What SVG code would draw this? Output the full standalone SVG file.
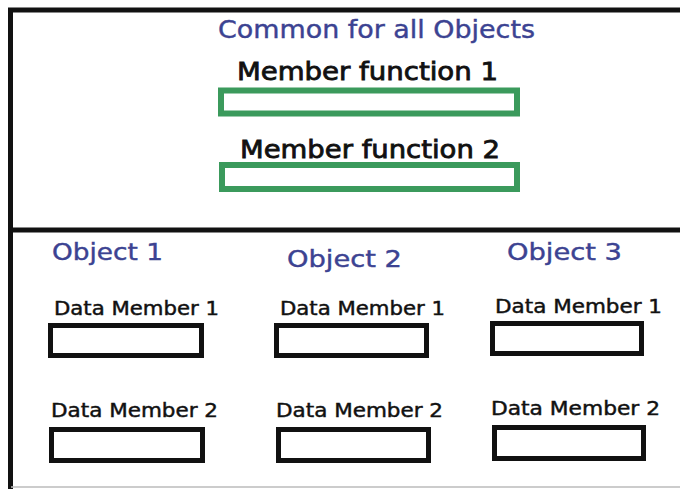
<svg xmlns="http://www.w3.org/2000/svg" width="680" height="489" viewBox="0 0 680 489">
  <style>
    .frame { stroke: #111; stroke-width: 5; fill: none; }
    .fn-box { fill: #fff; stroke: #3b9a5c; stroke-width: 6; }
    .dm-box { fill: #fff; stroke: #111; stroke-width: 5; }
    .title { font-family: "DejaVu Sans", "Liberation Sans", sans-serif; fill: #3c4392; stroke: #3c4392; stroke-width: 0.4; font-size: 24px; }
    .fn-label { font-family: "DejaVu Sans", "Liberation Sans", sans-serif; fill: #111; stroke: #111; stroke-width: 0.8; font-size: 24px; }
    .obj-label { font-family: "DejaVu Sans", "Liberation Sans", sans-serif; fill: #3c4392; stroke: #3c4392; stroke-width: 0.4; font-size: 23px; }
    .dm-label { font-family: "DejaVu Sans", "Liberation Sans", sans-serif; fill: #111; stroke: #111; stroke-width: 0.45; font-size: 19px; }
  </style>
  <rect width="680" height="489" fill="#fff"/>

  <!-- outer frame and divider between shared and per-object parts -->
  <g id="frame">
    <path class="frame" d="M680 10 H10.5 V489"/>
    <path class="frame" d="M10.5 230 H680"/>
    <path d="M11 487 H680" stroke="#bbb" stroke-width="1.5" fill="none"/>
  </g>

  <!-- shared member functions -->
  <g id="common">
    <text class="title" x="218" y="38" textLength="317" lengthAdjust="spacingAndGlyphs">Common for all Objects</text>
  </g>
  <g id="member-function-1">
    <text class="fn-label" x="237" y="80" textLength="261" lengthAdjust="spacingAndGlyphs">Member function 1</text>
    <rect class="fn-box" x="221" y="90.5" width="296" height="23"/>
  </g>
  <g id="member-function-2">
    <text class="fn-label" x="240" y="158" textLength="260" lengthAdjust="spacingAndGlyphs">Member function 2</text>
    <rect class="fn-box" x="222" y="165" width="295" height="24"/>
  </g>

  <!-- object 1 -->
  <g id="object-1">
    <text class="obj-label" x="52" y="260" textLength="111" lengthAdjust="spacingAndGlyphs">Object 1</text>
    <text class="dm-label" x="54" y="315" textLength="165" lengthAdjust="spacingAndGlyphs">Data Member 1</text>
    <rect class="dm-box" x="50.5" y="325.5" width="151" height="30"/>
    <text class="dm-label" x="51" y="417" textLength="167" lengthAdjust="spacingAndGlyphs">Data Member 2</text>
    <rect class="dm-box" x="51.5" y="429.5" width="151" height="31"/>
  </g>

  <!-- object 2 -->
  <g id="object-2">
    <text class="obj-label" x="287" y="267" textLength="115" lengthAdjust="spacingAndGlyphs">Object 2</text>
    <text class="dm-label" x="280" y="315" textLength="165" lengthAdjust="spacingAndGlyphs">Data Member 1</text>
    <rect class="dm-box" x="276.5" y="325.5" width="150" height="30"/>
    <text class="dm-label" x="276" y="417" textLength="167" lengthAdjust="spacingAndGlyphs">Data Member 2</text>
    <rect class="dm-box" x="278.5" y="429.5" width="150" height="31"/>
  </g>

  <!-- object 3 -->
  <g id="object-3">
    <text class="obj-label" x="507" y="260" textLength="115" lengthAdjust="spacingAndGlyphs">Object 3</text>
    <text class="dm-label" x="495" y="313" textLength="167" lengthAdjust="spacingAndGlyphs">Data Member 1</text>
    <rect class="dm-box" x="492.5" y="323.5" width="149" height="30"/>
    <text class="dm-label" x="491" y="415" textLength="169" lengthAdjust="spacingAndGlyphs">Data Member 2</text>
    <rect class="dm-box" x="494.5" y="427.5" width="149" height="31"/>
  </g>
</svg>
